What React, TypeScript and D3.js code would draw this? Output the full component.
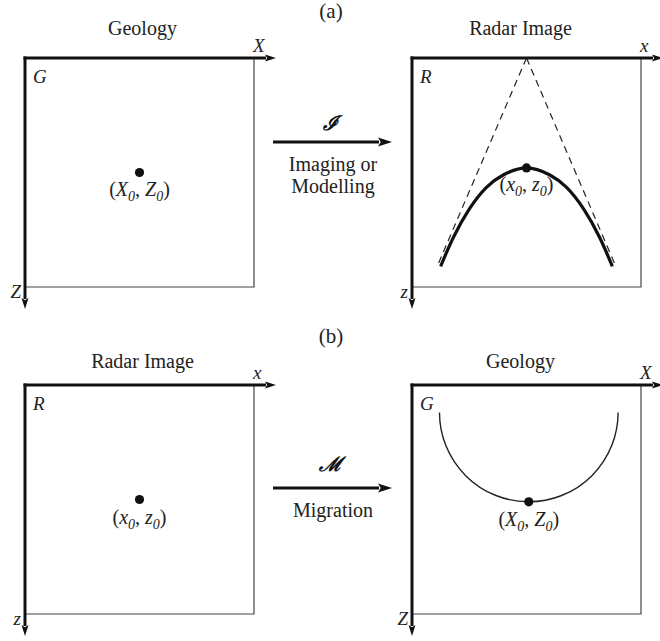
import { useEffect, useRef } from 'react';
import { select, scaleLinear, line, curveNatural, path } from 'd3';

// panel contents, in panel units (0..100 along x and z)
const panelTitles = ['Geology', 'Radar Image', 'Radar Image', 'Geology'];
const originLabels = ['G', 'R', 'R', 'G'];
const xAxisLabels = ['X', 'x', 'x', 'X'];
const zAxisLabels = ['Z', 'z', 'z', 'Z'];
const pointNames = [['X', 'Z'], ['x', 'z'], ['x', 'z'], ['X', 'Z']];
const pointValues = [[50, 50], [50, 48], [50, 50], [51, 51]];

// diffraction hyperbola in the radar image (a)
const hyperbolaPoints = [
  [12.5, 91], [18, 78.5], [25, 66], [32.5, 56.5], [40, 51], [50, 48],
  [60, 51], [67.5, 56.5], [75, 66], [82, 78.5], [87.5, 91],
];
const asymptotes = [
  [[50, 0], [11, 91]],
  [[50, 0], [89, 91]],
];

// migration semicircle (b)
const arcCenter = [51, 12];
const arcRadius = 39;

const operatorSymbols = ['ℐ', 'ℳ'];
const operatorCaptions = [['Imaging or', 'Modelling'], ['Migration']];
const partLabels = ['(a)', '(b)'];

const W = 660;
const H = 641;
const FONT = '"Liberation Serif", "Times New Roman", serif';

export default function App() {
  const svgRef = useRef<SVGSVGElement>(null);

  useEffect(() => {
    const svg = select(svgRef.current);
    svg.selectAll('*').remove();
    svg.attr('width', W).attr('height', H);

    const cols = [25, 412];
    const rows = [58, 385];
    const size = 229;
    const ext = 22; // axis arrow length past the frame

    const arrowHead = (
      g: any,
      x1: number,
      y1: number,
      x2: number,
      y2: number,
      w: number,
      len: number,
      half: number
    ) => {
      const a = Math.atan2(y2 - y1, x2 - x1);
      const bx = x2 - len * Math.cos(a);
      const by = y2 - len * Math.sin(a);
      g.append('line')
        .attr('x1', x1)
        .attr('y1', y1)
        .attr('x2', bx + Math.cos(a))
        .attr('y2', by + Math.sin(a))
        .attr('stroke', '#111')
        .attr('stroke-width', w);
      const px = -Math.sin(a) * half;
      const py = Math.cos(a) * half;
      g.append('path')
        .attr('d', `M${x2},${y2}L${bx + px},${by + py}L${bx + len * 0.2 * Math.cos(a)},${by + len * 0.2 * Math.sin(a)}L${bx - px},${by - py}Z`)
        .attr('fill', '#111');
    };

    panelTitles.forEach((title, i) => {
      const col = i % 2;
      const row = Math.floor(i / 2);
      const left = cols[col];
      const top = rows[row];
      const x = scaleLinear().domain([0, 100]).range([left, left + size]);
      const z = scaleLinear().domain([0, 100]).range([top, top + size]);
      const g = svg.append('g');

      // thin frame on right and bottom
      g.append('path')
        .attr('d', `M${x(100)},${z(0)}V${z(100)}H${x(0)}`)
        .attr('fill', 'none')
        .attr('stroke', '#444')
        .attr('stroke-width', 1.2);

      // axes
      arrowHead(g, x(0) - 1.5, z(0), x(100) + ext, z(0), 3, 11, 3.5);
      arrowHead(g, x(0), z(0) - 1.5, x(0), z(100) + ext, 3, 11, 3.5);

      g.append('text')
        .attr('x', x(0) + size / 2 + (col === 0 ? 3 : -6))
        .attr('y', top - (row === 0 ? 23 : 17))
        .attr('text-anchor', 'middle')
        .attr('font-family', FONT)
        .attr('font-size', 20)
        .attr('fill', '#222')
        .text(title);

      const ital = (tx: number, ty: number, s: string, anchor = 'start') =>
        g.append('text')
          .attr('x', tx)
          .attr('y', ty)
          .attr('text-anchor', anchor)
          .attr('font-family', FONT)
          .attr('font-style', 'italic')
          .attr('font-size', 19)
          .attr('fill', '#222')
          .text(s);

      ital(x(100) - 1, z(0) - 6, xAxisLabels[i]);
      ital(x(0) - 4, z(100) + 11, zAxisLabels[i], 'end');
      ital(x(0) + 8, z(0) + 25, originLabels[i]);

      if (i === 1) {
        const ln = line<number[]>()
          .x((d) => x(d[0]))
          .y((d) => z(d[1]));
        asymptotes.forEach((seg) => {
          g.append('path')
            .attr('d', ln(seg))
            .attr('fill', 'none')
            .attr('stroke', '#222')
            .attr('stroke-width', 1.2)
            .attr('stroke-dasharray', '7,5');
        });
        g.append('path')
          .attr('d', ln.curve(curveNatural)(hyperbolaPoints))
          .attr('fill', 'none')
          .attr('stroke', '#111')
          .attr('stroke-width', 3.2);
      }

      if (i === 3) {
        const p = path();
        const r = x(arcRadius) - x(0);
        p.moveTo(x(arcCenter[0]) + r, z(arcCenter[1]));
        p.arc(x(arcCenter[0]), z(arcCenter[1]), r, 0, Math.PI);
        g.append('path')
          .attr('d', p.toString())
          .attr('fill', 'none')
          .attr('stroke', '#222')
          .attr('stroke-width', 1.4);
      }

      const [pv, pz] = pointValues[i];
      g.append('circle')
        .attr('cx', x(pv))
        .attr('cy', z(pz))
        .attr('r', 4.6)
        .attr('fill', '#111');

      const t = g.append('text')
        .attr('x', x(pv))
        .attr('y', z(pz) + (row === 0 ? 23 : 24))
        .attr('text-anchor', 'middle')
        .attr('font-family', FONT)
        .attr('font-style', 'italic')
        .attr('font-size', 20)
        .attr('fill', '#222');
      const [a, b] = pointNames[i];
      t.append('tspan').attr('font-style', 'normal').text('(');
      t.append('tspan').text(a);
      t.append('tspan').attr('font-size', 14).attr('dy', 5).text('0');
      t.append('tspan').attr('dy', -5).text(', ');
      t.append('tspan').text(b);
      t.append('tspan').attr('font-size', 14).attr('dy', 5).text('0');
      t.append('tspan').attr('dy', -5).attr('font-style', 'normal').text(')');
    });

    // operator arrows between panels
    const arrowY = [142, 488];
    const symbolY = [130, 471];
    operatorSymbols.forEach((sym, k) => {
      const g = svg.append('g');
      arrowHead(g, 273, arrowY[k], 392, arrowY[k], 3, 14, 4.5);
      g.append('text')
        .attr('x', 330)
        .attr('y', symbolY[k])
        .attr('text-anchor', 'middle')
        .attr('font-family', '"DejaVu Serif", serif')
        .attr('font-style', 'italic')
        .attr('font-weight', 'bold')
        .attr('font-size', 20)
        .attr('fill', '#111')
        .text(sym);
      operatorCaptions[k].forEach((c, j) => {
        g.append('text')
          .attr('x', 333)
          .attr('y', arrowY[k] + 29 + j * 22)
          .attr('text-anchor', 'middle')
          .attr('font-family', FONT)
          .attr('font-size', 20)
          .attr('fill', '#222')
          .text(c);
      });
    });

    const partY = [18, 343];
    partLabels.forEach((lab, k) => {
      svg.append('text')
        .attr('x', 331)
        .attr('y', partY[k])
        .attr('text-anchor', 'middle')
        .attr('font-family', FONT)
        .attr('font-size', 21)
        .attr('fill', '#222')
        .text(lab);
    });
  }, []);

  return (
    <div style={{ position: 'absolute', left: 0, top: 0, background: '#fff' }}>
      <svg ref={svgRef}></svg>
    </div>
  );
}
